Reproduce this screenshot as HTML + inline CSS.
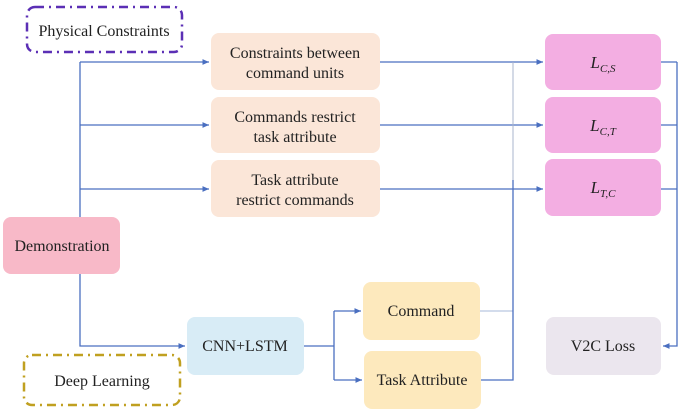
<!DOCTYPE html>
<html><head><meta charset="utf-8"><style>
body{margin:0;background:#fff;}
svg{display:block;font-family:"Liberation Serif",serif;}
</style></head><body>
<svg width="685" height="418" viewBox="0 0 685 418" xmlns="http://www.w3.org/2000/svg">
<defs><marker id="a" markerWidth="6" markerHeight="6" refX="5" refY="3" orient="auto"><path d="M0,0.8 L5,3 L0,5.2z" fill="#4a6fc0"/></marker></defs>
<g fill="none" stroke="#4a6fc0" stroke-width="1.3">
<path d="M80 62 V217 M80 274 V346 H185" marker-end="url(#a)"/>
<path d="M80 62 H209" marker-end="url(#a)"/>
<path d="M80 125 H209" marker-end="url(#a)"/>
<path d="M80 189 H209" marker-end="url(#a)"/>
<path d="M380 62 H543" marker-end="url(#a)"/>
<path d="M380 125 H543" marker-end="url(#a)"/>
<path d="M380 189 H543" marker-end="url(#a)"/>
<path d="M304 346 H334 M334 311 V380"/>
<path d="M334 311 H361" marker-end="url(#a)"/>
<path d="M334 380 H362" marker-end="url(#a)"/>
<path d="M480 311 H513" stroke-width="0.8" stroke="#8aa0cc"/>
<path d="M481 380 H513 V180"/>
<path d="M513 180 V62" stroke="#a8b4cc" stroke-width="1"/>
<path d="M661 62 H677 M661 125 H677 M661 189 H677 M677 62 V346 H663" marker-end="url(#a)"/>
</g>
<rect x="27" y="7" width="155" height="45" rx="8" fill="none" stroke="#5b2fb5" stroke-width="2.5" stroke-dasharray="9 5 2 5"/>
<text x="104" y="36" font-size="16" text-anchor="middle" fill="#222">Physical Constraints</text>
<rect x="24" y="355" width="156" height="50" rx="8" fill="none" stroke="#c0a020" stroke-width="2.5" stroke-dasharray="9 5 2 5"/>
<text x="102" y="386" font-size="16" text-anchor="middle" fill="#222">Deep Learning</text>
<g fill="#fbe6d8">
<rect x="211" y="33" width="169" height="57" rx="8"/>
<rect x="211" y="97" width="169" height="56" rx="8"/>
<rect x="211" y="160" width="169" height="57" rx="8"/>
</g>
<g font-size="16" text-anchor="middle" fill="#222">
<text x="295" y="58">Constraints between</text><text x="295" y="78">command units</text>
<text x="295" y="122">Commands restrict</text><text x="295" y="142">task attribute</text>
<text x="295" y="185">Task attribute</text><text x="295" y="205">restrict commands</text>
</g>
<g fill="#f3aee2">
<rect x="545" y="34" width="116" height="56" rx="8"/>
<rect x="545" y="97" width="116" height="56" rx="8"/>
<rect x="545" y="159" width="116" height="57" rx="8"/>
</g>
<g font-size="17" font-style="italic" text-anchor="middle" fill="#222">
<text x="603" y="68">L<tspan font-size="11" dy="4">C,S</tspan></text>
<text x="603" y="131">L<tspan font-size="11" dy="4">C,T</tspan></text>
<text x="603" y="193">L<tspan font-size="11" dy="4">T,C</tspan></text>
</g>
<rect x="3" y="217" width="117" height="57" rx="8" fill="#f8b9c8"/>
<text x="62" y="251" font-size="16" text-anchor="middle" fill="#222">Demonstration</text>
<rect x="187" y="317" width="117" height="58" rx="8" fill="#d8ecf6"/>
<text x="245" y="351" font-size="16" text-anchor="middle" fill="#222">CNN+LSTM</text>
<rect x="363" y="282" width="117" height="58" rx="8" fill="#fde9bd"/>
<text x="421" y="316" font-size="16" text-anchor="middle" fill="#222">Command</text>
<rect x="364" y="351" width="117" height="58" rx="8" fill="#fde9bd"/>
<text x="422" y="385" font-size="16" text-anchor="middle" fill="#222">Task Attribute</text>
<rect x="546" y="317" width="115" height="58" rx="8" fill="#ebe6ee"/>
<text x="603" y="351" font-size="16" text-anchor="middle" fill="#222">V2C Loss</text>
</svg>
</body></html>
